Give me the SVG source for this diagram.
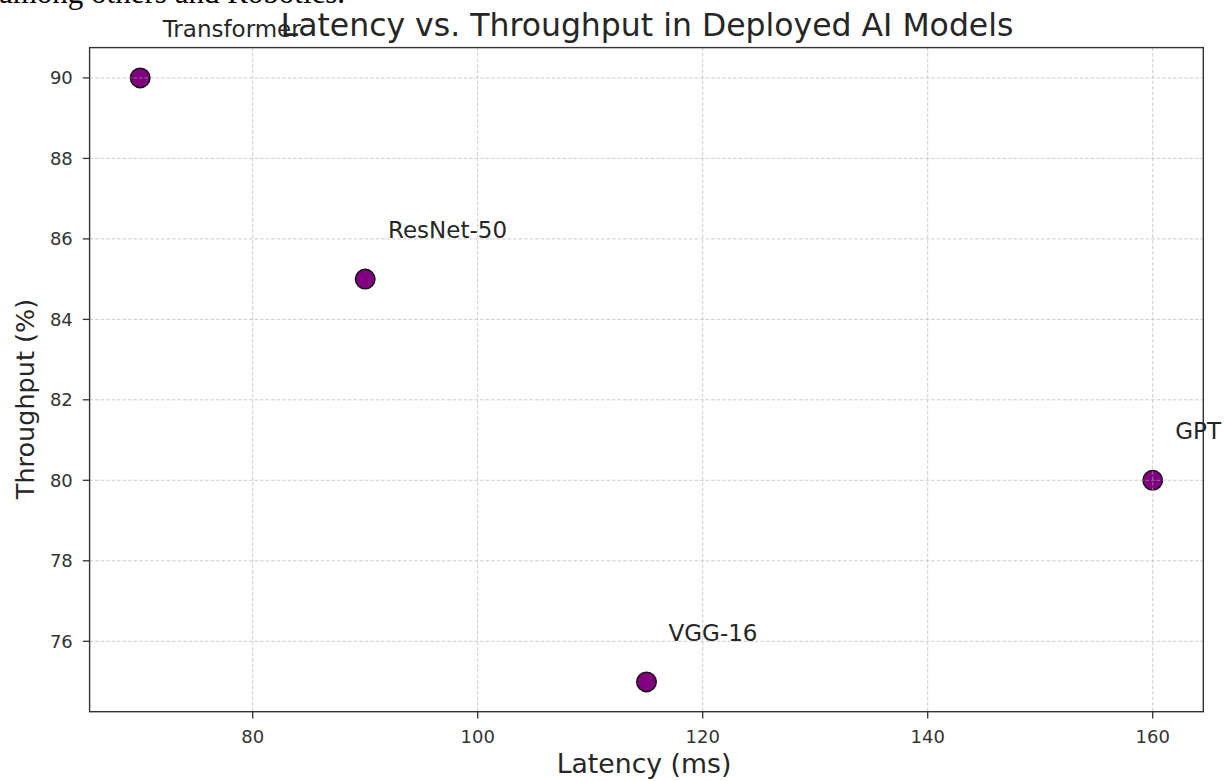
<svg xmlns="http://www.w3.org/2000/svg" width="1224" height="781" viewBox="0 0 1224 781">
  <style>
    .grid { stroke: #b0b0b0; stroke-width: 0.9; stroke-dasharray: 3.5 2; opacity: 0.7; fill: none; }
    .spine { stroke: #333333; stroke-width: 1.4; fill: none; }
    .tick { stroke: #333333; stroke-width: 1.3; }
    .ticklbl { font-family: "DejaVu Sans", sans-serif; font-size: 18px; fill: #333333; }
    .axlbl { font-family: "DejaVu Sans", sans-serif; fill: #262626; }
    .ptlbl { font-family: "DejaVu Sans", sans-serif; font-size: 23px; fill: #262626; }
    .pt { fill: #800080; stroke: #111111; stroke-width: 1.4; }
  </style>

  <rect x="0" y="0" width="1224" height="781" fill="#ffffff"/>

  <!-- fragment of surrounding page text -->
  <text x="-1" y="3" font-family="'Liberation Serif', serif" font-size="31" fill="#000000">among others and Robotics.</text>

  <!-- data points -->
  <g id="pt-transformer"><circle class="pt" cx="140.2" cy="77.9" r="9.8"/></g>
  <g id="pt-resnet50"><circle class="pt" cx="365.2" cy="279.1" r="9.8"/></g>
  <g id="pt-vgg16"><circle class="pt" cx="646.5" cy="681.9" r="9.8"/></g>
  <g id="pt-gpt"><circle class="pt" cx="1152.7" cy="480.3" r="9.8"/></g>

  <!-- grid (drawn above the markers) -->
  <g id="grid">
    <line class="grid" x1="252.7" y1="47.6" x2="252.7" y2="711.7"/>
    <line class="grid" x1="477.7" y1="47.6" x2="477.7" y2="711.7"/>
    <line class="grid" x1="702.7" y1="47.6" x2="702.7" y2="711.7"/>
    <line class="grid" x1="927.7" y1="47.6" x2="927.7" y2="711.7"/>
    <line class="grid" x1="1152.7" y1="47.6" x2="1152.7" y2="711.7"/>
    <line class="grid" x1="89.6" y1="641.3" x2="1203.3" y2="641.3"/>
    <line class="grid" x1="89.6" y1="560.8" x2="1203.3" y2="560.8"/>
    <line class="grid" x1="89.6" y1="480.3" x2="1203.3" y2="480.3"/>
    <line class="grid" x1="89.6" y1="399.8" x2="1203.3" y2="399.8"/>
    <line class="grid" x1="89.6" y1="319.4" x2="1203.3" y2="319.4"/>
    <line class="grid" x1="89.6" y1="238.9" x2="1203.3" y2="238.9"/>
    <line class="grid" x1="89.6" y1="158.4" x2="1203.3" y2="158.4"/>
    <line class="grid" x1="89.6" y1="77.9" x2="1203.3" y2="77.9"/>
  </g>

  <!-- axes frame -->
  <rect class="spine" x="89.6" y="47.6" width="1113.7" height="664.1"/>

  <!-- ticks -->
  <g id="xticks">
    <line class="tick" x1="252.7" y1="711.7" x2="252.7" y2="718.5"/>
    <line class="tick" x1="477.7" y1="711.7" x2="477.7" y2="718.5"/>
    <line class="tick" x1="702.7" y1="711.7" x2="702.7" y2="718.5"/>
    <line class="tick" x1="927.7" y1="711.7" x2="927.7" y2="718.5"/>
    <line class="tick" x1="1152.7" y1="711.7" x2="1152.7" y2="718.5"/>
    <g class="ticklbl" text-anchor="middle">
      <text x="252.7" y="742.5">80</text>
      <text x="477.7" y="742.5">100</text>
      <text x="702.7" y="742.5">120</text>
      <text x="927.7" y="742.5">140</text>
      <text x="1152.7" y="742.5">160</text>
    </g>
  </g>
  <g id="yticks">
    <line class="tick" x1="82.8" y1="641.3" x2="89.6" y2="641.3"/>
    <line class="tick" x1="82.8" y1="560.8" x2="89.6" y2="560.8"/>
    <line class="tick" x1="82.8" y1="480.3" x2="89.6" y2="480.3"/>
    <line class="tick" x1="82.8" y1="399.8" x2="89.6" y2="399.8"/>
    <line class="tick" x1="82.8" y1="319.4" x2="89.6" y2="319.4"/>
    <line class="tick" x1="82.8" y1="238.9" x2="89.6" y2="238.9"/>
    <line class="tick" x1="82.8" y1="158.4" x2="89.6" y2="158.4"/>
    <line class="tick" x1="82.8" y1="77.9" x2="89.6" y2="77.9"/>
    <g class="ticklbl" text-anchor="end">
      <text x="72.8" y="647.5">76</text>
      <text x="72.8" y="567">78</text>
      <text x="72.8" y="486.5">80</text>
      <text x="72.8" y="406">82</text>
      <text x="72.8" y="325.6">84</text>
      <text x="72.8" y="245.1">86</text>
      <text x="72.8" y="164.6">88</text>
      <text x="72.8" y="84.1">90</text>
    </g>
  </g>

  <!-- point labels -->
  <text class="ptlbl" x="162.7" y="37">Transformer</text>
  <text class="ptlbl" x="388" y="238">ResNet-50</text>
  <text class="ptlbl" x="668.5" y="641">VGG-16</text>
  <text class="ptlbl" x="1175.2" y="439">GPT</text>

  <!-- axis labels and title -->
  <text class="axlbl" x="644" y="773" font-size="26.7" text-anchor="middle">Latency (ms)</text>
  <text class="axlbl" transform="translate(33.5 399) rotate(-90)" font-size="25.5" text-anchor="middle">Throughput (%)</text>
  <text class="axlbl" x="647" y="36" font-size="31.5" text-anchor="middle">Latency vs. Throughput in Deployed AI Models</text>
</svg>
